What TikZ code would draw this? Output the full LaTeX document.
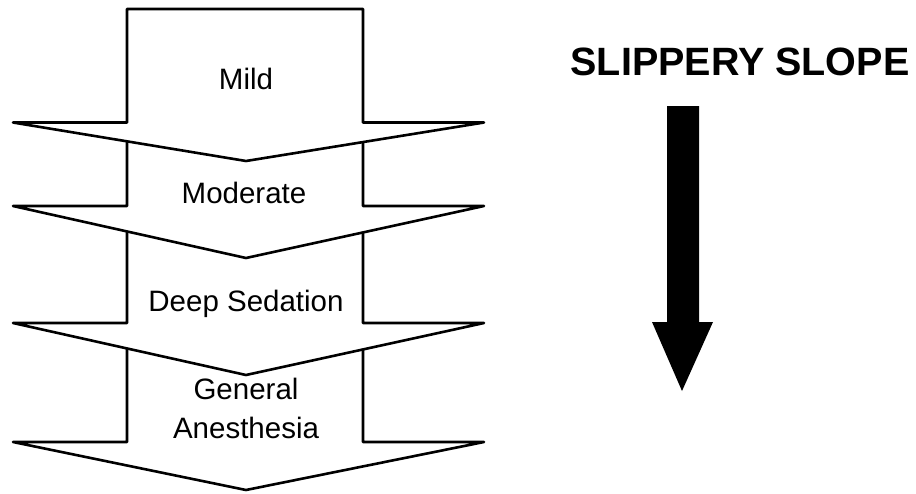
\documentclass[tikz,border=0pt]{standalone}
\usepackage{fontspec}
\setmainfont{Liberation Sans}
\begin{document}
\begin{tikzpicture}[x=1pt,y=-1pt,
  stage/.style={draw=black,fill=white,line width=2.6pt,line join=round},
  lbl/.style={font=\fontsize{29.5}{39}\selectfont,anchor=base,align=center,inner sep=0pt},
  title/.style={font=\fontsize{39.5}{44}\selectfont\bfseries,anchor=base,inner sep=0pt},
  slope/.style={fill=black,draw=none}]
\useasboundingbox (0,0) rectangle (916,493);
% stacked arrows, drawn bottom to top so each head covers the next shaft
\draw[stage] (127,330) -- (127,442) -- (13,442) -- (246,490) -- (484,442) -- (363,442) -- (363,330) -- cycle;
\draw[stage] (127,220) -- (127,323) -- (13,323) -- (246,375) -- (484,323) -- (363,323) -- (363,220) -- cycle;
\draw[stage] (127,130) -- (127,206) -- (13,206) -- (246,258) -- (484,206) -- (363,206) -- (363,130) -- cycle;
\draw[stage] (127,9) -- (127,122.5) -- (13,122.5) -- (246,161) -- (484,122.5) -- (363,122.5) -- (363,9) -- cycle;
\node[lbl] (mild) at (246,89) {Mild};
\node[lbl] (moderate) at (244,203) {Moderate};
\node[lbl] (deep) at (246,311.5) {Deep Sedation};
\node[lbl] (general) at (246,399) {General};
\node[lbl] (anesthesia) at (246,438) {Anesthesia};
% slippery slope
\node[title] (slippery) at (740,75.5) {SLIPPERY SLOPE};
\fill[slope] (667,106) -- (699,106) -- (699,322) -- (713,322) -- (682,391) -- (652,322) -- (667,322) -- cycle;
\end{tikzpicture}
\end{document}
